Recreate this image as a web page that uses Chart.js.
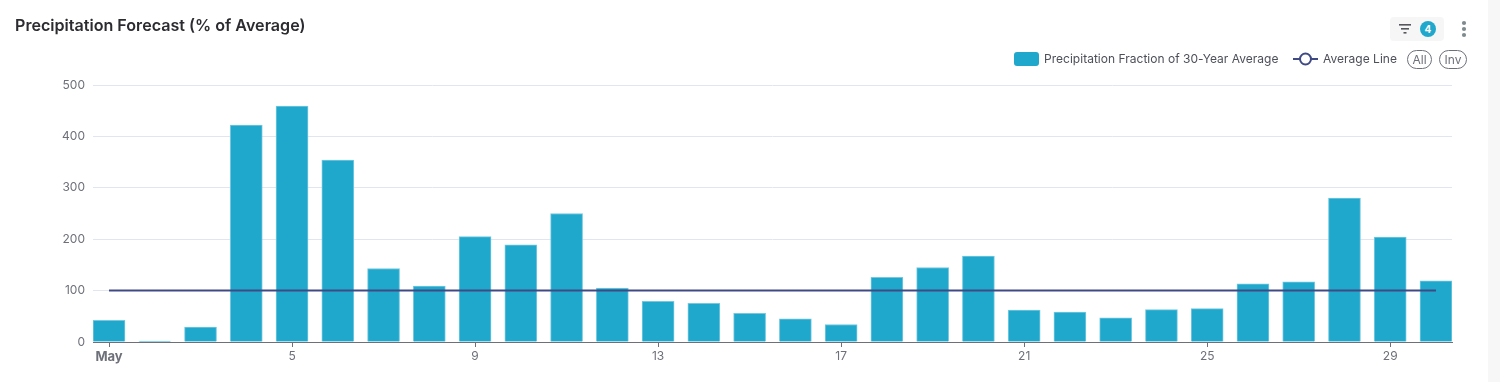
<!DOCTYPE html>
<html><head><meta charset="utf-8">
<script src="https://cdn.jsdelivr.net/npm/chart.js@4"></script>
<style>
html,body{margin:0;padding:0;background:#fff;overflow:hidden}
#wrap{position:relative;width:1500px;height:382px}
canvas{position:absolute;left:0;top:0}
.t{position:absolute;white-space:nowrap;font-family:Inter,sans-serif}
#title{left:15px;top:15px;font-size:16.1px;font-weight:600;color:#2b2b30;line-height:20px}
#sb{position:absolute;left:1488px;top:0;width:12px;height:382px;background:#f7f7f7}
#filter{position:absolute;left:1390px;top:17px;width:54px;height:24px;background:#f6f6f7;border-radius:4px}
#badge{position:absolute;left:1420px;top:21px;width:16px;height:16px;border-radius:50%;background:#20a8cc;color:#fff;font:700 10px/16px Inter,sans-serif;text-align:center}
.lg{font-size:12px;letter-spacing:0.02px;color:#4d4f59;line-height:16px;top:51px}
#sw{position:absolute;left:1014px;top:52px;width:25px;height:14px;border-radius:3px;background:#20a8cc}
.pill{position:absolute;top:50px;height:19px;border:1px solid #6e7079;border-radius:10px;font:12px/17px Inter,sans-serif;color:#6e7079;text-align:center;box-sizing:border-box}
</style></head><body>
<div id="wrap">
<canvas id="c" width="1500" height="382"></canvas>
<div id="sb"></div>
<div id="title" class="t">Precipitation Forecast (% of Average)</div>
<div id="filter"></div>
<svg style="position:absolute;left:1398px;top:23px" width="14" height="12"><rect x="1" y="1" width="12" height="1.6" fill="#55565e"/><rect x="3" y="5" width="8" height="1.6" fill="#55565e"/><rect x="5.5" y="9" width="3" height="1.6" fill="#55565e"/></svg>
<div id="badge">4</div>
<svg style="position:absolute;left:1459px;top:20px" width="10" height="18"><circle cx="5" cy="3" r="2.1" fill="#7f8a8e"/><circle cx="5" cy="9" r="2.1" fill="#7f8a8e"/><circle cx="5" cy="15" r="2.1" fill="#7f8a8e"/></svg>
<div id="sw"></div>
<div class="t lg" style="left:1044px">Precipitation Fraction of 30-Year Average</div>
<svg style="position:absolute;left:1293px;top:51px" width="26" height="16"><line x1="0" y1="8" x2="25" y2="8" stroke="#3f4a85" stroke-width="2"/><circle cx="12.5" cy="8" r="5.5" fill="#fff" stroke="#3f4a85" stroke-width="2"/></svg>
<div class="t lg" style="left:1323px">Average Line</div>
<div class="pill" style="left:1407px;width:25px">All</div>
<div class="pill" style="left:1439px;width:28px">Inv</div>
</div>
<script>
const days = [1,2,3,4,5,6,7,8,9,10,11,12,13,14,15,16,17,18,19,20,21,22,23,24,25,26,27,28,29,30];
const precipitation = [42,2,29,422,459,354,143,109,205,189,250,105,79,75,56,45,34,126,145,167,62,58,47,63,65,113,117,280,204,119];
const averageLine = [100,100,100,100,100,100,100,100,100,100,100,100,100,100,100,100,100,100,100,100,100,100,100,100,100,100,100,100,100,100];
const xTickValues = [1,5,9,13,17,21,25,29];
const xTickLabels = ['May','5','9','13','17','21','25','29'];
const yTickValues = [0,100,200,300,400,500];
const toPts = arr => arr.map((v,i)=>({x:days[i],y:v}));
new Chart(document.getElementById('c'),{
  data:{datasets:[
    {type:'line',label:'Average Line',data:toPts(averageLine),borderColor:'#3f4a85',borderWidth:2,pointRadius:0,order:0},
    {type:'bar',label:'Precipitation Fraction of 30-Year Average',data:toPts(precipitation),backgroundColor:'#20a8cc',borderColor:'#74c9e1',borderWidth:{top:1,left:1,right:1,bottom:0},barThickness:32,order:1}
  ]},
  options:{
    responsive:false,animation:false,
    layout:{padding:{left:0,right:48,top:85,bottom:0}},
    plugins:{legend:{display:false},title:{display:false},tooltip:{enabled:false}},
    scales:{
      x:{type:'linear',offset:false,min:0.65,max:30.35,
        afterBuildTicks:s=>{s.ticks=xTickValues.map(v=>({value:v}));},
        afterFit:s=>{s.height=40;s.paddingLeft=0;s.paddingRight=0;},
        grid:{display:false},
        border:{display:true,color:'#6e7079',width:1},
        ticks:{autoSkip:false,maxRotation:0,color:'#6e7079',
          font:c=>(c.tick&&c.tick.value===1?{family:'Inter, sans-serif',size:13,weight:'700'}:{family:'Inter, sans-serif',size:12,weight:'400'}),
          padding:-1,
          callback:v=>xTickLabels[xTickValues.indexOf(v)]}
      },
      y:{min:0,max:500,
        afterBuildTicks:s=>{s.ticks=yTickValues.map(v=>({value:v}));},
        afterFit:s=>{s.width=93;s.paddingTop=0;s.paddingBottom=0;},
        grid:{color:'#e0e6f1',lineWidth:1,drawTicks:false},
        border:{display:false},
        ticks:{color:'#6e7079',font:{family:'Inter, sans-serif',size:12},padding:8}
      }
    }
  },
  plugins:[{id:'xTickMarks',afterDraw(chart){
    const g=chart.ctx,s=chart.scales.x,b=chart.chartArea.bottom;
    g.save();g.strokeStyle='#6e7079';g.lineWidth=1;
    xTickValues.forEach(v=>{const x=Math.round(s.getPixelForValue(v))+.5;g.beginPath();g.moveTo(x,b);g.lineTo(x,b+5);g.stroke();});
    g.restore();
  }}]
});
</script>
</body></html>
